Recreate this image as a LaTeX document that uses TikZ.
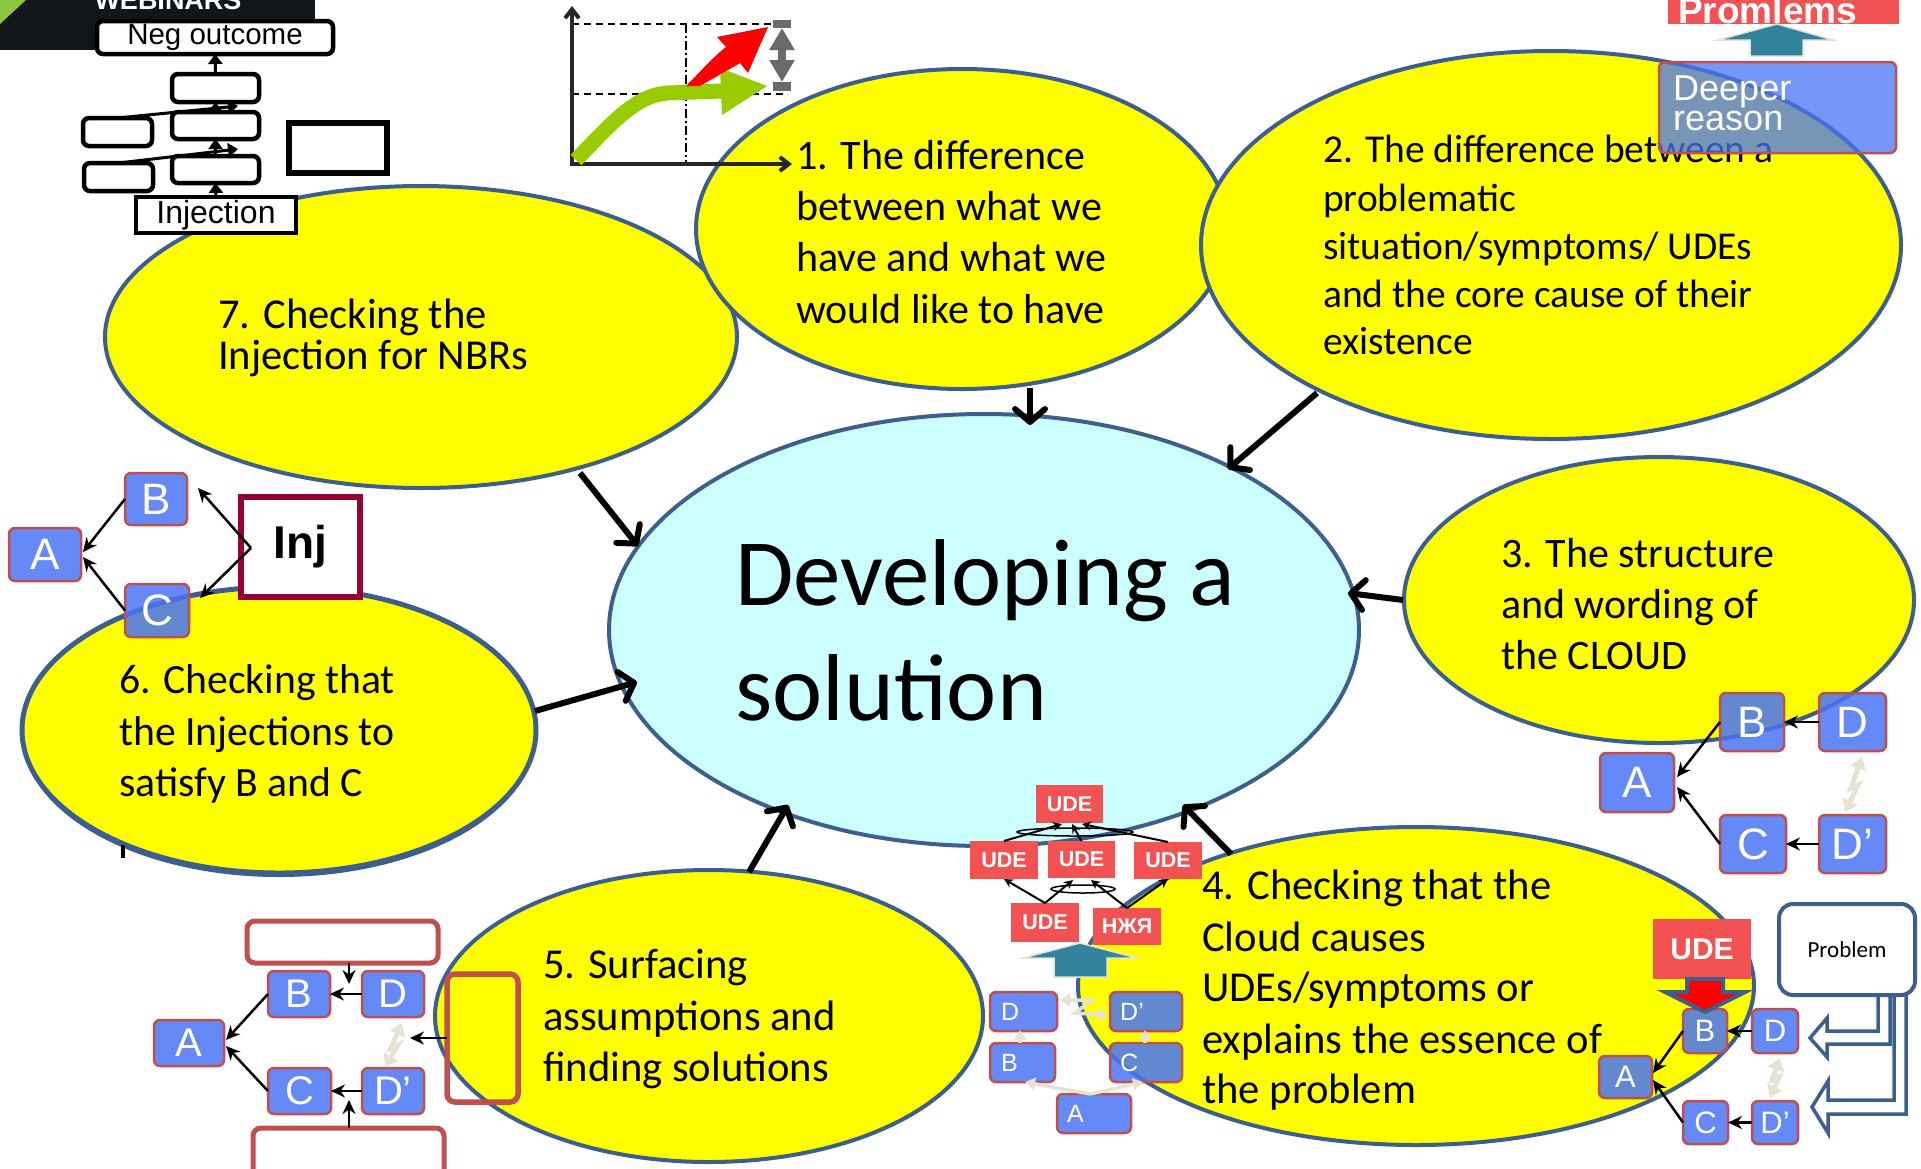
\documentclass[tikz,border=0pt]{standalone}
\usepackage{fontspec}
\setmainfont{Carlito}
\newfontfamily\arialf{Liberation Sans}
\usetikzlibrary{shapes.geometric,arrows.meta}
\definecolor{yel}{HTML}{FFFF00}
\definecolor{ebord}{HTML}{3D5F8E}
\definecolor{cyanf}{HTML}{CCFFFF}
\definecolor{boxblue}{HTML}{4A74F5}
\definecolor{boxred}{HTML}{C0504D}
\definecolor{udered}{HTML}{F25252}
\definecolor{tealc}{HTML}{31849B}
\definecolor{beigel}{HTML}{E6E3D3}
\definecolor{injred}{HTML}{990033}
\definecolor{grn}{HTML}{99CC00}
\definecolor{gray66}{HTML}{6A6A6A}
\definecolor{bandark}{HTML}{12161A}
\definecolor{bangreen}{HTML}{8CC63F}
\newcommand\boxat[7][]{%
  \pgfmathsetmacro\bxw{#5-#3}%
  \pgfmathsetmacro\bxh{#6-#4}%
  \pgfmathsetmacro\bxx{(#3+#5)/2}%
  \pgfmathsetmacro\bxy{(#4+#6)/2}%
  \node[#1, minimum width=\bxw pt, minimum height=\bxh pt] (#2) at (\bxx,\bxy) {#7};%
}
\newcommand\fA{\fontsize{42}{47}\selectfont}
\newcommand\fAA{\fontsize{39.5}{47}\selectfont}
\newcommand\fB{\fontsize{42.6}{50}\selectfont}
\tikzset{
  yell/.style={ellipse, draw=ebord, line width=4pt, fill=yel, inner sep=0pt, outer sep=0pt},
  etext/.style={anchor=base west, inner sep=0pt, font=\fB},
  conn/.style={line width=6pt, -{Straight Barb[length=13pt,width=30pt,line cap=round,line join=round]}},
  bbox/.style={rectangle, rounded corners=6pt, draw=boxred, line width=2.5pt, fill=boxblue, fill opacity=0.85, text opacity=1, text=white, inner sep=0pt, outer sep=0pt},
  ude/.style={rectangle, fill=udered, text=white, font=\arialf\bfseries\fontsize{21.5}{21.5}\selectfont, inner sep=0pt, outer sep=0pt},
  kbox/.style={rectangle, rounded corners=6pt, draw=black, line width=4.5pt, fill=white, inner sep=0pt, outer sep=0pt},
  rbox/.style={rectangle, rounded corners=8pt, draw=boxred, line width=5pt, inner sep=0pt, outer sep=0pt},
  thinarr/.style={line width=2.5pt, -{Stealth[length=14pt,width=13pt]}},
  uarr/.style={line width=2pt, -{Stealth[length=9pt,width=9pt]}},
  karr/.style={line width=3pt, -{Triangle[length=10pt,width=14pt]}},
  zig/.style={draw=beigel, line width=5pt, {Triangle[length=12pt,width=16pt]}-{Triangle[length=12pt,width=16pt]}},
  lightarr/.style={draw=beigel, line width=3.5pt, -{Triangle[length=10pt,width=12pt]}},
  lbl/.style={anchor=west, inner sep=0pt, text=white, font=\arialf\fontsize{25}{25}\selectfont},
}
\begin{document}
\begin{tikzpicture}[x=1pt,y=-1pt]
\useasboundingbox (0,0) rectangle (1921,1168);
\clip (0,0) rectangle (1921,1168);
% banner
\fill[bandark] (0,0) rectangle (315,50);
\fill[bangreen] (0,0) -- (26,0) -- (0,24) -- cycle;
\node[anchor=base, inner sep=0pt, text=white, font=\arialf\bfseries\fontsize{27}{27}\selectfont] (web) at (168,9) {WEBINARS};
% ellipses
\node[yell, minimum width=632pt, minimum height=302pt] (e7) at (421,337) {};
\node[ellipse, fill=ebord, minimum width=514pt, minimum height=286pt, inner sep=0pt] (e6s) at (279,734) {};
\node[yell, line width=5pt, minimum width=514pt, minimum height=286pt] (e6) at (279,730) {};
\node[yell, minimum width=532pt, minimum height=320pt] (e1) at (962,229) {};
\node[yell, minimum width=700pt, minimum height=388pt] (e2) at (1551,245) {};
\node[yell, minimum width=510pt, minimum height=286pt] (e3) at (1659,600) {};
\node[yell, minimum width=548pt, minimum height=292pt] (e5) at (709,1016) {};
\node[yell, minimum width=676pt, minimum height=318pt] (e4) at (1416,986) {};
\node[ellipse, draw=ebord, line width=4pt, fill=cyanf, minimum width=750pt, minimum height=432pt, inner sep=0pt] (ec) at (984,630) {};
\draw[line width=4pt] (123,845) -- (123,858);
% texts
\node[anchor=base west, inner sep=0pt, font=\fontsize{95}{113}\selectfont] (ct1) at (735,605) {Developing a};
\node[anchor=base west, inner sep=0pt, font=\fontsize{95}{113}\selectfont] (ct2) at (735,720) {solution};
\node[etext, font=\fA] (t1a) at (796,169) {1. The difference};
\node[etext, font=\fA] (t1b) at (796,220) {between what we};
\node[etext, font=\fA] (t1c) at (796,271) {have and what we};
\node[etext, font=\fA] (t1d) at (796,323) {would like to have};
\node[etext, font=\fAA] (t2a) at (1323,162) {2. The difference between a};
\node[etext, font=\fAA] (t2b) at (1323,211) {problematic};
\node[etext, font=\fAA] (t2c) at (1323,259) {situation/symptoms/ UDEs};
\node[etext, font=\fAA] (t2d) at (1323,307) {and the core cause of their};
\node[etext, font=\fAA] (t2e) at (1323,354) {existence};
\node[etext] (t7a) at (218,328) {7. Checking the};
\node[etext] (t7b) at (218,369) {Injection for NBRs};
\node[etext, font=\fontsize{42}{50}\selectfont] (t3a) at (1501,567) {3. The structure};
\node[etext, font=\fontsize{42}{50}\selectfont] (t3b) at (1501,618) {and wording of};
\node[etext, font=\fontsize{42}{50}\selectfont] (t3c) at (1501,669) {the CLOUD};
\node[etext, font=\fontsize{41.7}{50}\selectfont] (t6a) at (119,693) {6. Checking that};
\node[etext, font=\fontsize{41.7}{50}\selectfont] (t6b) at (119,745) {the Injections to};
\node[etext, font=\fontsize{41.7}{50}\selectfont] (t6c) at (119,796) {satisfy B and C};
\node[etext] (t5a) at (543,978) {5. Surfacing};
\node[etext] (t5b) at (543,1030) {assumptions and};
\node[etext] (t5c) at (543,1081) {finding solutions};
\node[etext] (t4a) at (1202,899) {4. Checking that the};
\node[etext] (t4b) at (1202,951) {Cloud causes};
\node[etext] (t4c) at (1202,1001) {UDEs/symptoms or};
\node[etext] (t4d) at (1202,1053) {explains the essence of};
\node[etext] (t4e) at (1202,1103) {the problem};
% main connectors
\coordinate (a1s) at (1030,388); \coordinate (a1e) at (1030,425);
\coordinate (a2s) at (1317,393); \coordinate (a2e) at (1228,469);
\coordinate (a3s) at (1403,600); \coordinate (a3e) at (1348,593);
\coordinate (a4s) at (1231,854); \coordinate (a4e) at (1183,805);
\coordinate (a5s) at (749,872);  \coordinate (a5e) at (788,805);
\coordinate (a6s) at (535,711);  \coordinate (a6e) at (637,682);
\coordinate (a7s) at (580,473);  \coordinate (a7e) at (638,546);
\foreach \i in {1,...,7} {\draw[conn] (a\i s) -- (a\i e);}
% chart
\draw[line width=2pt, dash pattern=on 7pt off 5pt] (572,24) -- (788,24);
\draw[line width=2pt, dash pattern=on 7pt off 5pt] (572,94) -- (788,94);
\draw[line width=2pt, dash pattern=on 9pt off 3pt on 2pt off 3pt] (686,24) -- (686,164);
\draw[draw=black!85, line width=4pt, -{Straight Barb[length=9pt,width=14pt]}] (572,166) -- (572,6);
\draw[draw=black!85, line width=4pt, -{Straight Barb[length=9pt,width=14pt]}] (570,164) -- (792,164);
\draw[line width=15pt, draw=grn] (576,160) .. controls (610,125) and (635,95) .. (668,93) -- (722,91);
\fill[grn] (720,68) -- (767,86) -- (722,115) -- cycle;
\fill[red] (686,86) .. controls (700,72) and (712,58) .. (726,47) -- (717,37) -- (768,27) -- (748,73) -- (740,63) .. controls (725,72) and (710,80) .. (700,86) -- cycle;
\fill[gray66] (773,20) rectangle (791,28);
\fill[gray66] (773,82) rectangle (791,91);
\draw[gray66, line width=8pt, {Triangle[length=22pt,width=24pt]}-{Triangle[length=22pt,width=24pt]}] (782,28) -- (782,82);
% top-left stack
\boxat[kbox, font=\arialf\fontsize{29.5}{29.5}\selectfont]{neg}{97}{21}{333}{54}{Neg outcome}
\boxat[kbox]{s1}{172}{74}{259}{102}{}
\boxat[kbox]{s2}{172}{112}{259}{139}{}
\boxat[kbox]{s3}{172}{156}{259}{183}{}
\boxat[kbox]{sl1}{83}{118}{152}{146}{}
\boxat[kbox]{sl2}{84}{163}{153}{191}{}
\boxat[kbox, rounded corners=0pt, line width=5.5pt]{sr}{289}{123}{387}{173}{}
\boxat[kbox, rounded corners=0pt, font=\arialf\fontsize{32}{32}\selectfont]{injn}{136}{197}{296}{233}{Injection}
\draw[karr] (s1.north) -- (neg.south);
\draw[karr] (s2.north) -- (s1.south);
\draw[karr] (s3.north) -- (s2.south);
\draw[karr] (injn.north) -- (s3.south);
\coordinate (j1) at (238,106); \coordinate (j2) at (238,149);
\draw[karr] (sl1.north) -- (j1);
\draw[karr] (sl2.north) -- (j2);
% Promlems / deeper reason
\boxat[ude]{promb}{1668}{-10}{1899}{24}{}
\node[anchor=base west, inner sep=0pt, text=white, font=\arialf\bfseries\fontsize{37}{37}\selectfont] (promt) at (1678,23) {Promlems};
\filldraw[fill=tealc, draw=beigel, line width=1.5pt] (1777,24) -- (1833,40) -- (1803,40) -- (1803,56) -- (1750,56) -- (1750,40) -- (1718,40) -- cycle;
\boxat[bbox, fill opacity=0.75]{deep}{1659}{62}{1896}{153}{}
\node[anchor=base west, inner sep=0pt, text=white, font=\arialf\fontsize{36}{36}\selectfont] (deep1) at (1673,100) {Deeper};
\node[anchor=base west, inner sep=0pt, text=white, font=\arialf\fontsize{36}{36}\selectfont] (deep2) at (1673,130) {reason};
% Inj diagram
\boxat[kbox, draw=injred, rounded corners=0pt, line width=6pt, font=\arialf\bfseries\fontsize{46}{46}\selectfont]{inj}{241}{497}{360}{597}{Inj}
\boxat[bbox, font=\arialf\fontsize{44}{44}\selectfont]{iB}{125}{473}{187}{525}{B}
\boxat[bbox, font=\arialf\fontsize{44}{44}\selectfont]{iA}{9}{528}{81}{581}{A}
\boxat[bbox, font=\arialf\fontsize{44}{44}\selectfont]{iC}{125}{584}{189}{637}{C}
\coordinate (ij) at (251,548); \coordinate (iBt) at (198,488); \coordinate (iCt) at (200,598);
\coordinate (iAt1) at (83,552); \coordinate (iAt2) at (83,557);
\draw[thinarr] (ij) -- (iBt);
\draw[thinarr] (ij) -- (iCt);
\draw[thinarr] (iB.west) -- (iAt1);
\draw[thinarr] (iC.west) -- (iAt2);
% right middle cloud
\boxat[bbox, font=\arialf\fontsize{44}{44}\selectfont]{rB}{1720}{693}{1784}{751}{B}
\boxat[bbox, font=\arialf\fontsize{44}{44}\selectfont]{rD}{1819}{693}{1886}{751}{D}
\boxat[bbox, font=\arialf\fontsize{44}{44}\selectfont]{rA}{1600}{753}{1674}{812}{A}
\boxat[bbox, font=\arialf\fontsize{44}{44}\selectfont]{rC}{1720}{815}{1786}{873}{C}
\boxat[bbox, font=\arialf\fontsize{44}{44}\selectfont]{rDp}{1819}{815}{1886}{873}{D’}
\coordinate (rAt1) at (1677,777); \coordinate (rAt2) at (1677,787);
\draw[thinarr] (rD.west) -- (rB.east);
\draw[thinarr] (rDp.west) -- (rC.east);
\draw[thinarr] (rB.west) -- (rAt1);
\draw[thinarr] (rC.west) -- (rAt2);
\draw[zig] (1862,757) -- (1851,788) -- (1858,785) -- (1845,812);
% bottom-left cloud
\boxat[rbox, fill=white]{lT}{247}{921}{438}{963}{}
\boxat[rbox, fill=white]{lBot}{253}{1128}{444}{1178}{}
\boxat[rbox, line width=5.5pt]{lTall}{447}{974}{518}{1102}{}
\boxat[bbox, font=\arialf\fontsize{40}{40}\selectfont]{lB}{268}{971}{330}{1017}{B}
\boxat[bbox, font=\arialf\fontsize{40}{40}\selectfont]{lD}{362}{971}{424}{1017}{D}
\boxat[bbox, font=\arialf\fontsize{40}{40}\selectfont]{lA}{154}{1020}{224}{1066}{A}
\boxat[bbox, font=\arialf\fontsize{40}{40}\selectfont]{lC}{268}{1068}{331}{1114}{C}
\boxat[bbox, font=\arialf\fontsize{40}{40}\selectfont]{lDp}{362}{1068}{424}{1114}{D’}
\coordinate (lTs) at (349,963); \coordinate (lTe) at (349,984);
\coordinate (lBs) at (349,1128); \coordinate (lBe) at (349,1100);
\coordinate (lZs) at (447,1038); \coordinate (lZe) at (410,1038);
\coordinate (lAt1) at (226,1040); \coordinate (lAt2) at (226,1046);
\draw[thinarr] (lTs) -- (lTe);
\draw[thinarr] (lBs) -- (lBe);
\draw[thinarr] (lZs) -- (lZe);
\draw[thinarr] (lD.west) -- (lB.east);
\draw[thinarr] (lDp.west) -- (lC.east);
\draw[thinarr] (lB.west) -- (lAt1);
\draw[thinarr] (lC.west) -- (lAt2);
\draw[zig] (402,1023) -- (391,1048) -- (398,1045) -- (385,1067);
% UDE network
\boxat[ude]{uT}{1036}{785}{1103}{823}{UDE}
\boxat[ude]{u2a}{970}{841}{1038}{879}{UDE}
\boxat[ude]{u2b}{1048}{841}{1115}{878}{UDE}
\boxat[ude]{u2c}{1134}{842}{1202}{879}{UDE}
\boxat[ude]{u3a}{1011}{903}{1079}{942}{UDE}
\boxat[ude]{u3b}{1093}{908}{1161}{945}{НЖЯ}
\draw[line width=1.5pt] (1075,832) ellipse [x radius=58, y radius=4];
\draw[line width=1.5pt] (1083,889) ellipse [x radius=32, y radius=4];
\coordinate (uTa) at (1062,824); \coordinate (uTb) at (1072,824); \coordinate (uTc) at (1082,824);
\draw[uarr] (u2a.north) -- (uTa);
\draw[uarr] (u2b.north) -- (uTb);
\draw[uarr] (u2c.north) -- (uTc);
\coordinate (u2bl) at (1073,880); \coordinate (u2br) at (1091,880);
\draw[uarr] (u3a.north) -- (u2a.south);
\draw[uarr] (u3a.north) -- (u2bl);
\draw[uarr] (u3b.north) -- (u2c.south);
\draw[uarr] (u3b.north) -- (u2br);
\filldraw[fill=tealc, draw=beigel, line width=1.5pt] (1080,943) -- (1137,958) -- (1107,958) -- (1107,977) -- (1054,977) -- (1054,958) -- (1023,958) -- cycle;
% mini cloud
\boxat[bbox]{mD}{990}{992}{1057}{1031}{}
\boxat[bbox]{mDp}{1110}{992}{1182}{1031}{}
\boxat[bbox]{mB}{990}{1043}{1055}{1082}{}
\boxat[bbox]{mC}{1110}{1043}{1182}{1082}{}
\boxat[bbox]{mA}{1057}{1094}{1131}{1133}{}
\node[lbl] (mDl) at (1001,1012) {D};
\node[lbl] (mDpl) at (1120,1012) {D’};
\node[lbl] (mBl) at (1001,1063) {B};
\node[lbl] (mCl) at (1120,1063) {C};
\node[lbl] (mAl) at (1067,1114) {A};
\coordinate (mAs) at (1090,1094);
\coordinate (mBt) at (1025,1082); \coordinate (mCt) at (1143,1082);
\coordinate (mBu) at (1020,1043); \coordinate (mDu) at (1020,1030);
\coordinate (mCu) at (1145,1043); \coordinate (mDpu) at (1145,1030);
\draw[lightarr] (mAs) -- (mBt);
\draw[lightarr] (mAs) -- (mCt);
\draw[lightarr] (mBu) -- (mDu);
\draw[lightarr] (mCu) -- (mDpu);
\draw[lightarr, {Triangle[length=10pt,width=12pt]}-{Triangle[length=10pt,width=12pt]}] (1060,1000) -- (1092,1000) -- (1075,1013) -- (1108,1015);
% bottom right
\filldraw[fill=white, draw=ebord, line width=3.5pt] (1894,990) -- (1894,1100) -- (1828,1100) -- (1828,1081) -- (1812,1107) -- (1828,1133) -- (1828,1114) -- (1906,1114) -- (1906,990) -- cycle;
\filldraw[fill=white, draw=ebord, line width=3.5pt] (1878,990) -- (1878,1031) -- (1827,1031) -- (1827,1018) -- (1810,1038) -- (1827,1057) -- (1827,1044) -- (1890,1044) -- (1890,990) -- cycle;
\boxat[rectangle, rounded corners=14pt, draw=ebord, line width=4pt, fill=white, inner sep=0pt, font=\fontsize{23}{23}\selectfont]{prob}{1779}{904}{1915}{995}{Problem}
\boxat[ude, font=\arialf\bfseries\fontsize{30}{30}\selectfont]{bU}{1653}{919}{1751}{979}{UDE}
\boxat[bbox, font=\arialf\fontsize{31}{31}\selectfont]{bB}{1683}{1009}{1727}{1053}{B}
\boxat[bbox, font=\arialf\fontsize{31}{31}\selectfont]{bD}{1752}{1009}{1798}{1053}{D}
\boxat[bbox, font=\arialf\fontsize{31}{31}\selectfont]{bA}{1599}{1056}{1652}{1098}{A}
\boxat[bbox, font=\arialf\fontsize{31}{31}\selectfont]{bC}{1683}{1101}{1728}{1144}{C}
\boxat[bbox, font=\arialf\fontsize{31}{31}\selectfont]{bDp}{1752}{1101}{1798}{1144}{D’}
\filldraw[fill=red, draw=ebord, line width=4pt] (1687,979) -- (1723,979) -- (1723,992) -- (1745,992) -- (1705,1012) -- (1665,992) -- (1687,992) -- cycle;
\coordinate (bAt1) at (1653,1073); \coordinate (bAt2) at (1653,1080);
\draw[thinarr] (bD.west) -- (bB.east);
\draw[thinarr] (bDp.west) -- (bC.east);
\draw[thinarr] (bB.west) -- (bAt1);
\draw[thinarr] (bC.west) -- (bAt2);
\draw[zig] (1780,1058) -- (1772,1080) -- (1779,1077) -- (1770,1098);
\end{tikzpicture}
\end{document}
